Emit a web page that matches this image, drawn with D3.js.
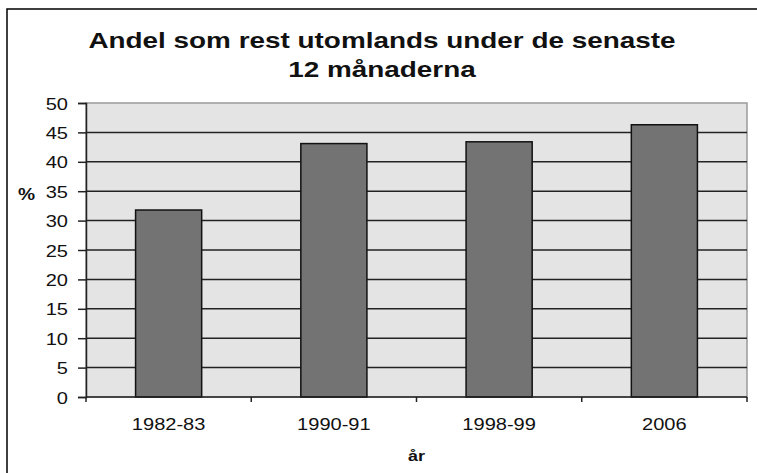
<!DOCTYPE html>
<html>
<head>
<meta charset="utf-8">
<script src="https://cdn.jsdelivr.net/npm/d3@7"></script>
<style>
  body { margin: 0; background: #fff; }
  svg { display: block; font-family: "Liberation Sans", Arial, sans-serif; }
</style>
</head>
<body>
<svg id="chart" width="757" height="473"></svg>
<script>
const years = ["1982-83", "1990-91", "1998-99", "2006"]
const shares = [31.8, 43.1, 43.4, 46.3]
const yTicks = [0, 5, 10, 15, 20, 25, 30, 35, 40, 45, 50]

const svg = d3.select("#chart")
const plotLeft = 86, plotRight = 747, plotTop = 103, plotBottom = 397
const sx = 1.18 // the source picture is a bit wider than it is tall

// text drawn at (x,y) and stretched sideways
const wideText = (parent, x, y, s, txt) => parent.append("text")
    .attr("transform", `translate(${x},${y}) scale(${s},1)`)
    .text(txt)

// outer frame
svg.append("rect")
    .attr("x", 7).attr("y", 9)
    .attr("width", 760).attr("height", 480)
    .attr("fill", "none").attr("stroke", "#000").attr("stroke-width", 1.5)

// title
const cx = 382
;[["Andel som rest utomlands under de senaste", 47.5], ["12 månaderna", 77]].forEach(([t, ty]) => {
    wideText(svg, cx, ty, 1.24, t)
        .attr("text-anchor", "middle")
        .attr("font-weight", "bold").attr("font-size", 22.5)
        .attr("fill", "#111")
})

const x = d3.scaleBand().domain(years).range([plotLeft, plotRight]).paddingInner(0.6).paddingOuter(0.3)
const y = d3.scaleLinear().domain([0, 50]).range([plotBottom, plotTop])

// plot area
svg.append("rect")
    .attr("x", plotLeft).attr("y", plotTop)
    .attr("width", plotRight - plotLeft).attr("height", plotBottom - plotTop)
    .attr("fill", "#e4e4e4")
    .attr("stroke", "#9a9a9a").attr("stroke-width", 1.5)

// gridlines
svg.append("g")
    .selectAll("line")
    .data(yTicks.filter(d => d > 0 && d < 50))
    .join("line")
    .attr("x1", plotLeft).attr("x2", plotRight)
    .attr("y1", d => y(d)).attr("y2", d => y(d))
    .attr("stroke", "#222").attr("stroke-width", 1.5)

// bars
svg.append("g")
    .selectAll("rect")
    .data(years)
    .join("rect")
    .attr("x", d => x(d))
    .attr("width", x.bandwidth())
    .attr("y", (d, i) => y(shares[i]))
    .attr("height", (d, i) => y(0) - y(shares[i]))
    .attr("fill", "#737373")
    .attr("stroke", "#111").attr("stroke-width", 1.5)

// y axis
const yAxis = svg.append("g")
    .attr("transform", `translate(${plotLeft},0)`)
    .call(d3.axisLeft(y).tickValues(yTicks).tickSize(8))
yAxis.select(".domain").attr("stroke", "#222").attr("stroke-width", 1.5)
yAxis.selectAll(".tick line").attr("stroke", "#222").attr("stroke-width", 1.5)
yAxis.selectAll(".tick text")
    .attr("x", 0).attr("dy", null)
    .attr("transform", `translate(-18,6) scale(${sx},1)`)
    .attr("font-size", 17).attr("fill", "#111")

// x axis: ticks between categories
const step = x.step()
const xAxis = svg.append("g")
    .attr("transform", `translate(0,${plotBottom})`)
xAxis.append("line")
    .attr("x1", plotLeft).attr("x2", plotRight)
    .attr("stroke", "#222").attr("stroke-width", 1.5)
xAxis.selectAll("line.tk")
    .data(d3.range(years.length + 1))
    .join("line").attr("class", "tk")
    .attr("x1", i => plotLeft + i * step).attr("x2", i => plotLeft + i * step)
    .attr("y1", 0).attr("y2", 5)
    .attr("stroke", "#222").attr("stroke-width", 1.5)
years.forEach(d => {
    wideText(xAxis, x(d) + x.bandwidth() / 2, 33, sx, d)
        .attr("text-anchor", "middle")
        .attr("font-size", 17).attr("fill", "#111")
})

// axis titles
wideText(svg, 26.5, 199.5, 1.2, "%")
    .attr("text-anchor", "middle")
    .attr("font-weight", "bold").attr("font-size", 16).attr("fill", "#111")
wideText(svg, (plotLeft + plotRight) / 2, 461, 1.2, "år")
    .attr("text-anchor", "middle")
    .attr("font-weight", "bold").attr("font-size", 15).attr("fill", "#111")
</script>
</body>
</html>
